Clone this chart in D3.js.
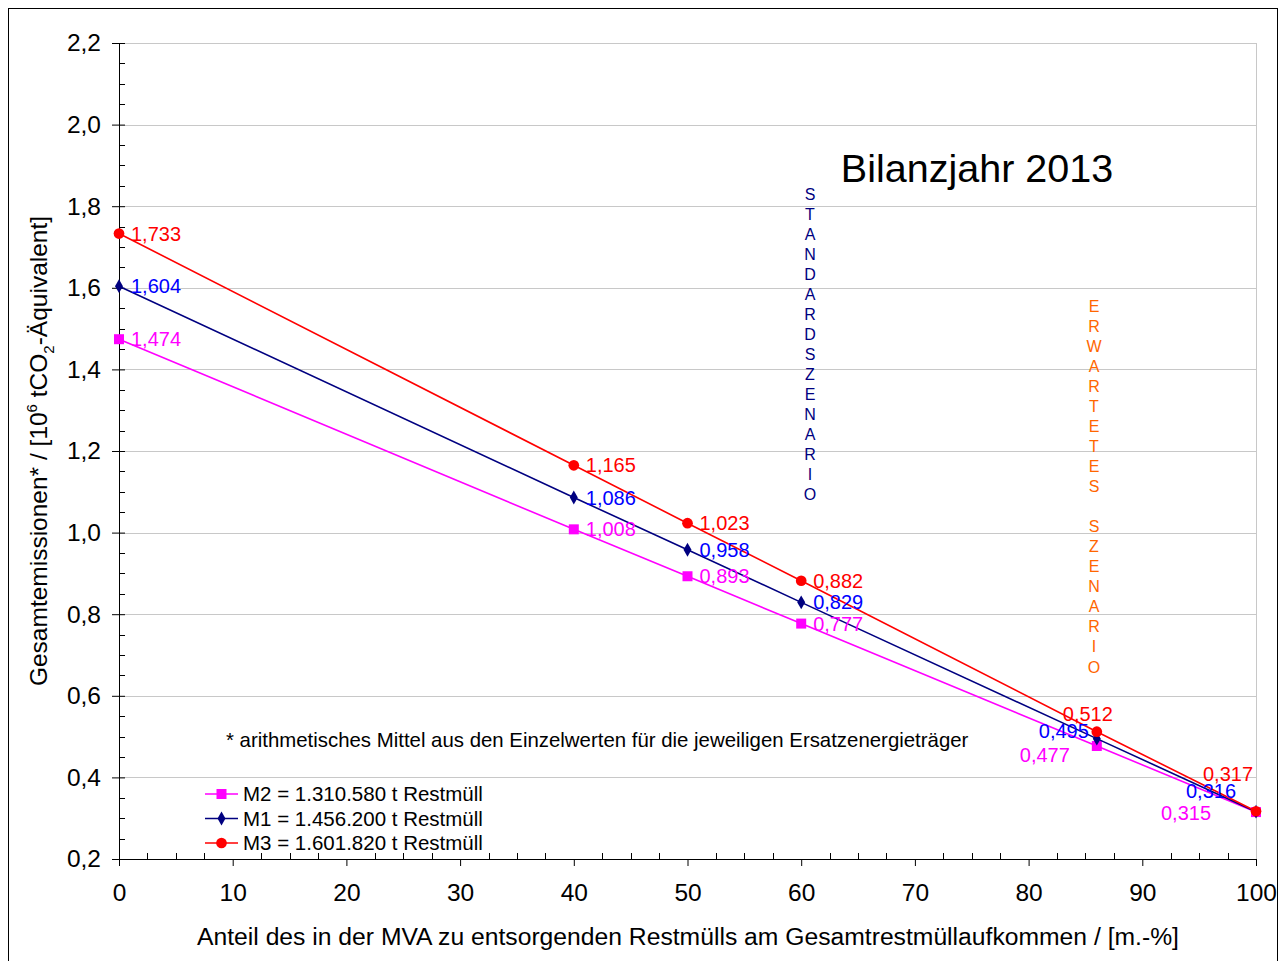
<!DOCTYPE html>
<html>
<head>
<meta charset="utf-8">
<script src="https://cdn.jsdelivr.net/npm/d3@7"></script>
<style>
  body { margin: 0; background: #fff; }
  svg { display: block; font-family: 'Liberation Sans', Arial, sans-serif; }
</style>
</head>
<body>
<svg id="chart" width="1284" height="961"></svg>
<script>
// data
const shares = [0, 40, 50, 60, 86, 100]
const m2Values = [1.474, 1.008, 0.893, 0.777, 0.477, 0.315]
const m1Values = [1.604, 1.086, 0.958, 0.829, 0.495, 0.316]
const m3Values = [1.733, 1.165, 1.023, 0.882, 0.512, 0.317]
const seriesNames = ['M2 = 1.310.580 t Restmüll', 'M1 = 1.456.200 t Restmüll', 'M3 = 1.601.820 t Restmüll']
const yTicks = [0.2, 0.4, 0.6, 0.8, 1.0, 1.2, 1.4, 1.6, 1.8, 2.0, 2.2]
const xTicks = [0, 10, 20, 30, 40, 50, 60, 70, 80, 90, 100]

const width = 1284
const height = 961
const margin = { top: 43, right: 28, bottom: 102, left: 119 }
const chartWidth = width - margin.left - margin.right
const chartHeight = height - margin.top - margin.bottom

const fmt = (v) => d3.format('.3f')(v).replace('.', ',')
const fmt1 = (v) => d3.format('.1f')(v).replace('.', ',')

// label offsets for the crowded points at 86 % and 100 % (centered labels)
const series = [
  { name: seriesNames[0], values: m2Values, line: '#ff00ff', label: '#ff00ff', symbol: d3.symbolSquare, size: 100,
    offsets: { 4: [-52, 9], 5: [-70, 1] } },
  { name: seriesNames[1], values: m1Values, line: '#000080', label: '#0000ff', symbol: d3.symbolDiamond, size: 55,
    offsets: { 4: [-33, -8], 5: [-45, -21] } },
  { name: seriesNames[2], values: m3Values, line: '#ff0000', label: '#ff0000', symbol: d3.symbolCircle, size: 90,
    offsets: { 4: [-9, -18], 5: [-28, -37] } },
]

const x = d3.scaleLinear().domain([0, 100]).range([0, chartWidth])
const y = d3.scaleLinear().domain([0.2, 2.2]).range([chartHeight, 0])

const root = d3.select('#chart')

// outer frame
root.append('rect')
  .attr('x', 8.5).attr('y', 8.5)
  .attr('width', 1269).attr('height', 960)
  .attr('fill', '#fff').attr('stroke', '#000').attr('stroke-width', 1)

const svg = root.append('g')
  .attr('transform', `translate(${margin.left},${margin.top})`)

// grid
svg.append('g')
  .selectAll('line')
  .data(yTicks.slice(1))
  .join('line')
  .attr('x1', 0).attr('x2', chartWidth)
  .attr('y1', (d) => Math.round(y(d)) + 0.5).attr('y2', (d) => Math.round(y(d)) + 0.5)
  .attr('stroke', '#c8c8c8')

svg.append('line')
  .attr('x1', chartWidth + 0.5).attr('x2', chartWidth + 0.5)
  .attr('y1', 0).attr('y2', chartHeight)
  .attr('stroke', '#c8c8c8')

// y axis
const yAxis = svg.append('g')
  .call(d3.axisLeft(y).tickValues(yTicks).tickSize(7).tickFormat(fmt1).tickSizeOuter(0))
yAxis.select('.domain').attr('stroke', '#000')
yAxis.selectAll('.tick text').attr('font-size', 24.5).attr('x', -18).attr('fill', '#000')
yAxis.selectAll('.tick line').attr('x2', 6).attr('x1', -7)
svg.append('g')
  .selectAll('line')
  .data(d3.range(0.25, 2.2, 0.05).filter((d) => Math.abs(d * 5 - Math.round(d * 5)) > 1e-6))
  .join('line')
  .attr('x1', 0).attr('x2', 6)
  .attr('y1', (d) => Math.round(y(d)) + 0.5).attr('y2', (d) => Math.round(y(d)) + 0.5)
  .attr('stroke', '#000')

// x axis
const xAxis = svg.append('g')
  .attr('transform', `translate(0,${chartHeight})`)
  .call(d3.axisBottom(x).tickValues(xTicks).tickSize(7).tickSizeOuter(0))
xAxis.select('.domain').attr('stroke', '#000')
xAxis.selectAll('.tick text').attr('font-size', 24.5).attr('y', 25).attr('fill', '#000')
svg.append('g')
  .selectAll('line')
  .data(d3.range(2.5, 100, 2.5).filter((d) => d % 10 !== 0))
  .join('line')
  .attr('x1', (d) => Math.round(x(d)) + 0.5).attr('x2', (d) => Math.round(x(d)) + 0.5)
  .attr('y1', chartHeight - 6).attr('y2', chartHeight)
  .attr('stroke', '#000')

// axis titles
root.append('text')
  .attr('x', 688).attr('y', 945)
  .attr('text-anchor', 'middle')
  .attr('font-size', 24.7)
  .text('Anteil des in der MVA zu entsorgenden Restmülls am Gesamtrestmüllaufkommen / [m.-%]')

const yTitle = root.append('text')
  .attr('transform', 'translate(47,451) rotate(-90)')
  .attr('text-anchor', 'middle')
  .attr('font-size', 24.5)
yTitle.append('tspan').text('Gesamtemissionen* / [10')
yTitle.append('tspan').attr('font-size', 15).attr('dy', -10).text('6')
yTitle.append('tspan').attr('dy', 10).text(' tCO')
yTitle.append('tspan').attr('font-size', 15).attr('dy', 7).text('2')
yTitle.append('tspan').attr('dy', -7).text('-Äquivalent]')

// lines
const line = d3.line().x((d) => x(d.x)).y((d) => y(d.y))
series.forEach((s) => {
  const pts = shares.map((v, i) => ({ x: v, y: s.values[i] }))
  svg.append('path')
    .datum(pts)
    .attr('d', line)
    .attr('fill', 'none')
    .attr('stroke', s.line)
    .attr('stroke-width', 1.6)
  svg.append('g')
    .selectAll('path')
    .data(pts)
    .join('path')
    .attr('transform', (d) => `translate(${x(d.x)},${y(d.y)})`)
    .attr('d', d3.symbol(s.symbol, s.size))
    .attr('fill', s.line)
})

// value labels
series.forEach((s) => {
  svg.append('g')
    .attr('font-size', 20)
    .attr('fill', s.label)
    .selectAll('text')
    .data(shares.map((v, i) => ({ x: v, y: s.values[i], i })))
    .join('text')
    .attr('x', (d) => x(d.x) + (s.offsets[d.i] ? s.offsets[d.i][0] : 12))
    .attr('y', (d) => y(d.y) + (s.offsets[d.i] ? s.offsets[d.i][1] : 0))
    .attr('dy', '0.35em')
    .attr('text-anchor', (d) => (s.offsets[d.i] ? 'middle' : 'start'))
    .text((d) => fmt(d.y))
})

// title
root.append('text')
  .attr('x', 977).attr('y', 182)
  .attr('text-anchor', 'middle')
  .attr('font-size', 39.5)
  .text('Bilanzjahr 2013')

// vertical scenario labels
const verticalText = (str, cx, y0, color) => {
  root.append('g')
    .attr('font-size', 16)
    .attr('fill', color)
    .attr('text-anchor', 'middle')
    .selectAll('text')
    .data(str.split(''))
    .join('text')
    .attr('x', cx)
    .attr('y', (d, i) => y0 + i * 20.05)
    .attr('dy', '0.35em')
    .text((d) => d)
}
verticalText('STANDARDSZENARIO', 810, 194, '#000080')
verticalText('ERWARTETES SZENARIO', 1094, 306, '#ff6600')

// footnote
root.append('text')
  .attr('x', 226).attr('y', 740)
  .attr('dy', '0.35em')
  .attr('font-size', 20.4)
  .text('* arithmetisches Mittel aus den Einzelwerten für die jeweiligen Ersatzenergieträger')

// legend
const legend = root.append('g')
  .selectAll('g')
  .data(series)
  .join('g')
  .attr('transform', (d, i) => `translate(205,${794 + i * 24.5})`)
legend.append('line')
  .attr('x1', 0).attr('x2', 33)
  .attr('stroke', (d) => d.line).attr('stroke-width', 1.6)
legend.append('path')
  .attr('transform', 'translate(16.5,0)')
  .attr('d', (d) => d3.symbol(d.symbol, d.size)())
  .attr('fill', (d) => d.line)
legend.append('text')
  .attr('x', 38)
  .attr('dy', '0.35em')
  .attr('font-size', 20.5)
  .text((d) => d.name)
</script>
</body>
</html>
